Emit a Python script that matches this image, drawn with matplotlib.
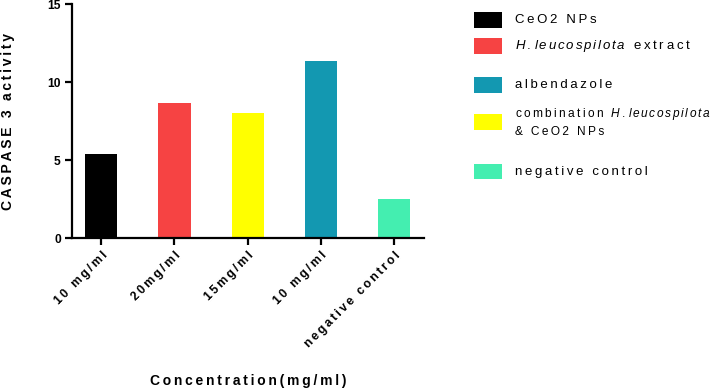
import matplotlib
matplotlib.use("Agg")
import matplotlib.pyplot as plt
from matplotlib.patches import Rectangle
from matplotlib.transforms import ScaledTranslation

plt.rcParams['font.family'] = ['Liberation Sans', 'DejaVu Sans']
plt.rcParams['mathtext.fontset'] = 'custom'
plt.rcParams['mathtext.it'] = 'Liberation Sans:italic'
plt.rcParams['mathtext.rm'] = 'Liberation Sans'

# data
tick_labels = ["10 mg/ml", "20mg/ml", "15mg/ml", "10 mg/ml", "negative control"]
caspase = [5.4, 8.67, 8.0, 11.33, 2.47]
bar_colors = ["#000000", "#F64343", "#FFFF00", "#1398B1", "#44EEB0"]

legend_colors = ["#000000", "#F64343", "#1398B1", "#FFFF00", "#44EEB0"]


def spaced(s):
    # Prism-style wide letter spacing
    return "\u2009".join(s)


def ital(s):
    return r"$\it{" + r"\,".join(s) + "}$"


legend_labels = [spaced("CeO2 NPs"),
                 ital("H.leucospilota") + "\u2009 \u2009" + spaced("extract"),
                 spaced("albendazole"),
                 spaced("combination") + "\u2009 \u2009" + ital("H.leucospilota")
                 + "\n" + spaced("& CeO2 NPs"),
                 spaced("negative control")]
legend_sizes = [9.5, 9.5, 9.5, 8.6, 9.5]
# legend row centres, in pixels from the top of the picture
legend_rows = [20, 46, 85, 122, 172]

W, H = 716, 389
fig = plt.figure(figsize=(W / 100, H / 100), dpi=100)
ax = fig.add_axes([72 / W, 1 - 238 / H, 352 / W, 234 / H])

x = list(range(len(caspase)))
ax.bar(x, caspase, width=0.44, color=bar_colors)

ax.set_xlim(-0.4, 4.41)
ax.set_ylim(0, 15)
ax.set_yticks([0, 5, 10, 15])
ax.set_xticks(x)
ax.set_xticklabels([spaced(t) for t in tick_labels], rotation=45, ha='right',
                   rotation_mode='anchor', fontweight='bold', fontsize=8.7)
shift = ScaledTranslation(5 / 100, 0, fig.dpi_scale_trans)
for lab in ax.get_xticklabels():
    lab.set_transform(lab.get_transform() + shift)
for lab in ax.get_yticklabels():
    lab.set_fontweight('bold')
    lab.set_fontsize(8.7)

for side in ['top', 'right']:
    ax.spines[side].set_visible(False)
for side in ['left', 'bottom']:
    ax.spines[side].set_linewidth(1.6)
ax.tick_params(direction='out', width=1.6, length=5, pad=3)

ax.set_ylabel(spaced("CASPASE 3 activity"), fontweight='bold', fontsize=10)
ax.yaxis.set_label_coords(-0.163, 0.5)
fig.text(248 / W, 1 - 381 / H, spaced("Concentration(mg/ml)"), fontweight='bold',
         fontsize=10, ha='center', va='center')

# legend drawn row by row (rows are unevenly spaced in the reference)
for color, label, size, row in zip(legend_colors, legend_labels, legend_sizes, legend_rows):
    fig.add_artist(Rectangle((474 / W, 1 - (row + 7.5) / H), 28 / W, 15 / H,
                             facecolor=color, edgecolor='none',
                             transform=fig.transFigure))
    fig.text(515 / W, 1 - row / H, label, fontsize=size, ha='left', va='center',
             linespacing=1.5)

fig.savefig("out.png", dpi=100)
